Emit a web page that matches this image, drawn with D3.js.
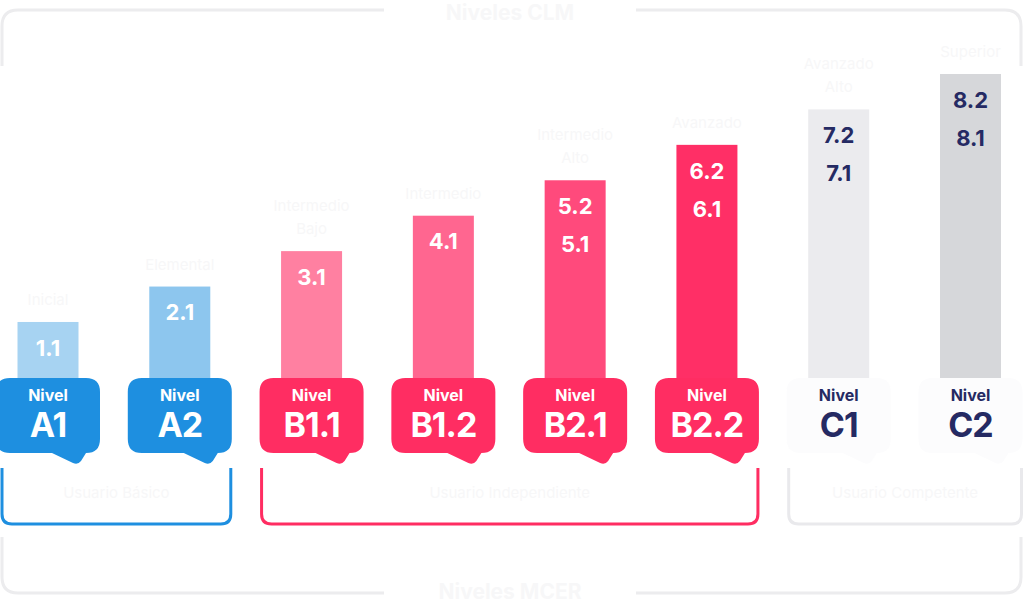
<!DOCTYPE html>
<html>
<head>
<meta charset="utf-8">
<script src="https://cdn.jsdelivr.net/npm/d3@7"></script>
<style>
    html, body { margin: 0; padding: 0; background: #ffffff; }
    svg { display: block; font-family: "Inter", "Open Sans", sans-serif; }
</style>
</head>
<body>
<script>
// ---- data ----
const levels = ["A1", "A2", "B1.1", "B1.2", "B2.1", "B2.2", "C1", "C2"];
const levelRank = [1, 2, 3, 4, 5, 6, 7, 8];
const subLevels = [["1.1"], ["2.1"], ["3.1"], ["4.1"], ["5.2", "5.1"], ["6.2", "6.1"], ["7.2", "7.1"], ["8.2", "8.1"]];
const levelNames = [["Inicial"], ["Elemental"], ["Intermedio", "Bajo"], ["Intermedio"], ["Intermedio", "Alto"], ["Avanzado"], ["Avanzado", "Alto"], ["Superior"]];
const groups = ["Usuario Básico", "Usuario Independiente", "Usuario Competente"];
const groupMembers = [["A1", "A2"], ["B1.1", "B1.2", "B2.1", "B2.2"], ["C1", "C2"]];
const barColors = ["#a7d3f2", "#8dc6ee", "#ff80a1", "#ff6690", "#ff4a7c", "#ff2f66", "#ebebee", "#d6d7da"];
const titleTop = "Niveles CLM";
const titleBottom = "Niveles MCER";

// ---- layout ----
const WIDTH = 1024, HEIGHT = 603;
const BAR_W = 61;
const BADGE_W = 104, BADGE_H = 75, BADGE_TOP = 378;
const FAINT = "#f7f7f8";
const NAVY = "#252a63";

const groupColor = g => g === 0 ? "#1e8fe0" : g === 1 ? "#ff2d62" : "#e9e9ec";
const groupOf = lvl => groupMembers.findIndex(m => m.includes(lvl));

const svg = d3.select("body").append("svg")
    .attr("width", WIDTH)
    .attr("height", HEIGHT);

const x = d3.scalePoint()
    .domain(levels)
    .range([48, 970.5]);

const y = d3.scaleLinear()
    .domain([0, 8])
    .range([357.4, 74]);

// outer frame (broken on the sides and round the titles)
const frame = svg.append("g")
    .attr("fill", "none")
    .attr("stroke", "#ececee")
    .attr("stroke-width", 3);
const L = 2, R = 1021, T = 10, B = 593, rr = 16;
frame.append("path")
    .attr("d", `M${L},66 V${T + rr} Q${L},${T} ${L + rr},${T} H384 M636,${T} H${R - rr} Q${R},${T} ${R},${T + rr} V66`);
frame.append("path")
    .attr("d", `M${L},537 V${B - rr} Q${L},${B} ${L + rr},${B} H384 M636,${B} H${R - rr} Q${R},${B} ${R},${B - rr} V537`);

svg.append("text")
    .text(titleTop)
    .attr("x", 510).attr("y", 20)
    .attr("text-anchor", "middle")
    .attr("font-size", 21).attr("font-weight", 700)
    .attr("fill", FAINT);
svg.append("text")
    .text(titleBottom)
    .attr("x", 510).attr("y", 599)
    .attr("text-anchor", "middle")
    .attr("font-size", 21).attr("font-weight", 700)
    .attr("fill", FAINT);

// bars
const bars = svg.append("g").selectAll("g")
    .data(levels.map((lvl, i) => ({ lvl, i, rank: levelRank[i] })))
    .join("g");

bars.append("rect")
    .attr("x", d => x(d.lvl) - BAR_W / 2)
    .attr("y", d => y(d.rank))
    .attr("width", BAR_W)
    .attr("height", d => BADGE_TOP + 10 - y(d.rank))
    .attr("fill", d => barColors[d.i]);

bars.each(function(d) {
    let g = d3.select(this);
    let textColor = groupOf(d.lvl) === 2 ? NAVY : "#ffffff";
    subLevels[d.i].forEach((s, k) => {
        g.append("text")
            .text(s)
            .attr("x", x(d.lvl))
            .attr("y", y(d.rank) + 26 + k * 38)
            .attr("dy", "0.35em")
            .attr("text-anchor", "middle")
            .attr("font-size", 22).attr("font-weight", 700)
            .attr("fill", textColor);
    });
    let names = levelNames[d.i];
    names.forEach((n, k) => {
        g.append("text")
            .text(n)
            .attr("x", x(d.lvl))
            .attr("y", y(d.rank) - 17 - (names.length - 1 - k) * 23)
            .attr("text-anchor", "middle")
            .attr("font-size", 15)
            .attr("fill", FAINT);
    });
});

// speech bubble badges
function badgePath(cx, top) {
    let l = cx - BADGE_W / 2, r = cx + BADGE_W / 2, b = top + BADGE_H, rad = 14;
    return `M${l + rad},${top} H${r - rad} Q${r},${top} ${r},${top + rad}
        V${b - rad} Q${r},${b} ${r - rad},${b} H${cx + 38}
        L${cx + 33},${b + 8} Q${cx + 30},${b + 12} ${cx + 25},${b + 10}
        L${cx + 4},${b} H${l + rad} Q${l},${b} ${l},${b - rad}
        V${top + rad} Q${l},${top} ${l + rad},${top} Z`;
}

const badges = svg.append("g").selectAll("g")
    .data(levels)
    .join("g");

badges.append("path")
    .attr("d", d => badgePath(x(d), BADGE_TOP))
    .attr("fill", d => groupOf(d) === 2 ? "#fcfcfd" : groupColor(groupOf(d)));

badges.append("text")
    .text("Nivel")
    .attr("x", d => x(d))
    .attr("y", 401)
    .attr("text-anchor", "middle")
    .attr("font-size", 16).attr("font-weight", 700)
    .attr("fill", d => groupOf(d) === 2 ? NAVY : "#ffffff");

badges.append("text")
    .text(d => d)
    .attr("x", d => x(d))
    .attr("y", 437)
    .attr("text-anchor", "middle")
    .attr("font-size", 34).attr("font-weight", 700)
    .attr("letter-spacing", "-1px")
    .attr("fill", d => groupOf(d) === 2 ? NAVY : "#ffffff");

// group brackets
const brackets = svg.append("g").selectAll("g")
    .data(groups.map((name, g) => ({ name, g })))
    .join("g");

brackets.append("path")
    .attr("fill", "none")
    .attr("stroke", d => groupColor(d.g))
    .attr("stroke-width", 3)
    .attr("d", d => {
        let m = groupMembers[d.g];
        let l = Math.max(2, x(m[0]) - 50), r = x(m[m.length - 1]) + 51;
        return `M${l},468 V514 Q${l},524 ${l + 10},524 H${r - 10} Q${r},524 ${r},514 V468`;
    });

brackets.append("text")
    .text(d => d.name)
    .attr("x", d => {
        let m = groupMembers[d.g];
        return (Math.max(2, x(m[0]) - 50) + x(m[m.length - 1]) + 51) / 2;
    })
    .attr("y", 498)
    .attr("text-anchor", "middle")
    .attr("font-size", 15)
    .attr("fill", FAINT);
</script>
</body>
</html>
